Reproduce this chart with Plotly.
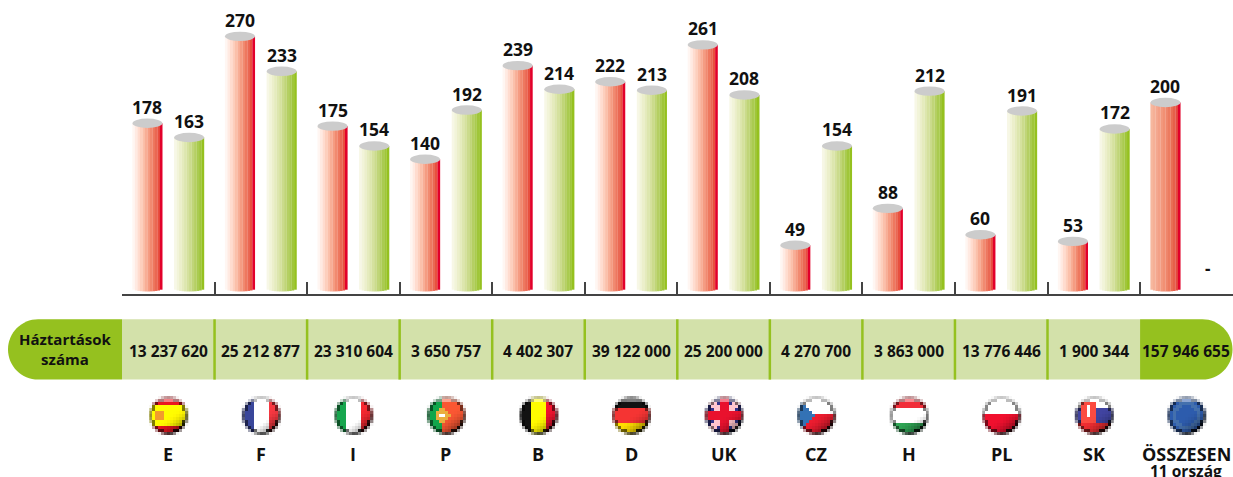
import numpy as np
import plotly.graph_objects as go

W, H = 1233, 477
countries = ["E", "F", "I", "P", "B", "D", "UK", "CZ", "H", "PL", "SK", "ÖSSZESEN"]
series_red = [178, 270, 175, 140, 239, 222, 261, 49, 88, 60, 53, 200]
series_green = [163, 233, 154, 192, 214, 213, 208, 154, 212, 191, 172, None]
households = ["13 237 620", "25 212 877", "23 310 604", "3 650 757", "4 402 307", "39 122 000",
              "25 200 000", "4 270 700", "3 863 000", "13 776 446", "1 900 344", "157 946 655"]
red_strips = ["#fff6f2", "#ffeae2", "#ffdccf", "#fdcfbd", "#fbc0aa", "#f8ae96", "#f59c82", "#f18a70",
              "#ee785f", "#ea6853", "#e8503f", "#e2002a"]
total_strips = ["#f6b79e", "#f5b097", "#f4a88f", "#f3a086", "#f2987d", "#f19074", "#ef866b", "#ec7b60",
                "#e96f55", "#e6604a", "#e44a3e", "#e2002a"]
green_strips = ["#f7f7e6", "#f2f4d9", "#ecefcb", "#e5ebbd", "#dde6ae", "#d5e19e", "#cbdb8c", "#c0d578",
                "#b5cf63", "#aacb50", "#a0c63a", "#95c11f"]

PX_PER_UNIT = 0.945
ZERO_PX = 291.5
GROUP_PX = 92.55
LEFT_PX = 122.0
AXIS_RIGHT = 1232.5
BAR_PX = 30.0
OFFSET = 20.85 / GROUP_PX


def pill(x0, x1, top, bot, left=True):
    r = (bot - top) / 2
    k = 0.5523 * r
    mid = (top + bot) / 2
    if left:
        return (f"M {x1} {top} L {x0+r} {top} C {x0+r-k} {top} {x0} {mid-k} {x0} {mid} "
                f"C {x0} {mid+k} {x0+r-k} {bot} {x0+r} {bot} L {x1} {bot} Z")
    return (f"M {x0} {top} L {x1-r} {top} C {x1-r+k} {top} {x1} {mid-k} {x1} {mid} "
            f"C {x1} {mid+k} {x1-r+k} {bot} {x1-r} {bot} L {x0} {bot} Z")


def flag(kind, n=13):
    u = (np.arange(n) + 0.5) / n * 2 - 1
    X, Y = np.meshgrid(u, u)

    def rgb(h):
        return np.array([int(h[i:i + 2], 16) for i in (1, 3, 5)], float)

    img = np.ones((n, n, 3)) * 255.0

    def fill(mask, c):
        img[mask] = rgb(c)

    if kind == "E":
        fill(np.ones_like(X, bool), "#d9141e")
        fill(abs(Y + 0.02) < 0.5, "#f2ea00")
        fill((abs(X + 0.45) < 0.22) & (abs(Y) < 0.28), "#e0902a")
    elif kind == "F":
        fill(X < -0.33, "#35418f")
        fill(X > 0.33, "#e6343c")
    elif kind == "I":
        fill(X < -0.33, "#159a48")
        fill(X > 0.33, "#e4252d")
    elif kind == "P":
        fill(X < -0.2, "#0f9a45")
        fill(X >= -0.2, "#e8512f")
        fill((np.hypot(X + 0.2, Y) < 0.36), "#d9a13a")
        fill((np.hypot(X + 0.2, Y) < 0.12), "#ffffff")
    elif kind == "B":
        fill(X < -0.33, "#111111")
        fill(abs(X) <= 0.33, "#f2ea00")
        fill(X > 0.33, "#e0112b")
    elif kind == "D":
        fill(Y < -0.33, "#111111")
        fill(abs(Y) <= 0.33, "#e3302f")
        fill(Y > 0.33, "#f0d000")
    elif kind == "UK":
        fill(np.ones_like(X, bool), "#2e2f80")
        fill((abs(abs(X) - abs(Y)) < 0.22), "#f2b8c0")
        fill((abs(X) < 0.3) | (abs(Y) < 0.3), "#f6f0f0")
        fill((abs(X) < 0.16) | (abs(Y) < 0.16), "#d8102a")
    elif kind == "CZ":
        fill(Y < 0, "#f2f2f2")
        fill(Y >= 0, "#dc1a2c")
        fill((X + 0.95) < (0.85 - abs(Y) * 0.95), "#2f6aa8")
    elif kind == "H":
        fill(Y < -0.33, "#df2a35")
        fill(Y > 0.33, "#2c9a4f")
    elif kind == "PL":
        fill(Y >= 0, "#df0f2b")
    elif kind == "SK":
        fill(Y < -0.33, "#f4f4f4")
        fill(abs(Y) <= 0.33, "#3c3f95")
        fill(Y > 0.33, "#df2a2e")
        fill((abs(X + 0.3) < 0.35) & (abs(Y + 0.1) < 0.52), "#e8453c")
        fill((abs(X + 0.3) < 0.07) & (abs(Y + 0.2) < 0.3), "#ffffff")
    else:
        fill(np.ones_like(X, bool), "#2a55a0")
        fill((abs(np.hypot(X, Y) - 0.62) < 0.09), "#3f68a0")
    r = np.hypot(X, Y)
    shade = np.clip(1.08 - 0.42 * np.clip((X + 1.4 * Y) / 1.4, 0, 1) ** 2 - 0.55 * (r > 0.8), 0, 1.2)
    img = np.clip(img * shade[..., None], 0, 255)
    top = (Y < -0.72) & (r < 1.0)
    img[top] = img[top] * 0.55 + 255 * 0.45
    alpha = np.clip((1.04 - r) / 0.14, 0, 1)[..., None]
    return np.round(img * alpha + 255 * (1 - alpha)).astype(np.uint8)


fig = go.Figure()

xs_idx = np.arange(len(countries))
n = len(red_strips)
groups = (
    ([(i, v) for i, v in zip(xs_idx[:-1], series_red[:-1])], red_strips, -OFFSET),
    ([(xs_idx[-1], series_red[-1])], total_strips, -OFFSET),
    ([(i, v) for i, v in zip(xs_idx, series_green) if v is not None], green_strips, OFFSET),
)
strip_w = BAR_PX / GROUP_PX / n
for present, cols, off in groups:
    for s in range(n):
        u = (s + 0.5) / n * 2 - 1
        base = (3.0 / PX_PER_UNIT) * (1 - np.sqrt(1 - u * u))
        fig.add_trace(go.Bar(
            x=[i + 0.5 + off + u * BAR_PX / GROUP_PX / 2 for i, _ in present],
            y=[v - base for _, v in present],
            base=base,
            width=strip_w * 1.06,
            marker=dict(color=cols[s], line=dict(width=0)),
            showlegend=False, hoverinfo="skip", xaxis="x", yaxis="y",
        ))

shapes = []
anns = []
RY = 4.7 / PX_PER_UNIT
RX = BAR_PX / GROUP_PX / 2
for vals, off in ((series_red, -OFFSET), (series_green, OFFSET)):
    for i, v in zip(xs_idx, vals):
        cx = i + 0.5 + off
        if v is None:
            anns.append(dict(x=cx, y=24, xref="x", yref="y", text="<b>-</b>", showarrow=False,
                             font=dict(size=17, color="#111")))
            continue
        shapes.append(dict(type="circle", xref="x", yref="y", x0=cx - RX, x1=cx + RX, y0=v - RY, y1=v + RY,
                           fillcolor="#cccccc", line=dict(width=0)))
        anns.append(dict(x=cx, y=v, xref="x", yref="y", yanchor="bottom", yshift=2.5, text=f"<b>{v}</b>",
                         showarrow=False, font=dict(size=17.5, color="#111")))

TOP, BOT = 319.3, 379.6
tick_px = [LEFT_PX + GROUP_PX * i for i in range(12)]
shapes.append(dict(type="rect", xref="x2", yref="y2", x0=LEFT_PX, x1=tick_px[-1], y0=TOP, y1=BOT,
                   fillcolor="#d3e1aa", line=dict(width=0)))
shapes.append(dict(type="path", xref="x2", yref="y2", path=pill(8, LEFT_PX, TOP, BOT, True),
                   fillcolor="#95c11f", line=dict(width=0)))
shapes.append(dict(type="path", xref="x2", yref="y2", path=pill(tick_px[-1], AXIS_RIGHT, TOP, BOT, False),
                   fillcolor="#95c11f", line=dict(width=0)))
for t in tick_px[1:-1]:
    shapes.append(dict(type="line", xref="x2", yref="y2", x0=t, x1=t, y0=TOP, y1=BOT,
                       line=dict(color="#95c11f", width=2.5)))

anns.append(dict(x=65, y=349, xref="x2", yref="y2", text="<b>Háztartások<br>száma</b>", showarrow=False,
                 font=dict(size=15, color="#111"), align="center"))
for i, h in enumerate(households):
    anns.append(dict(x=i + 0.5, y=350.5, xref="x", yref="y2", text=f"<b>{h}</b>", showarrow=False,
                     font=dict(size=15.5, color="#111")))
    anns.append(dict(x=i + 0.5, y=453.5, xref="x", yref="y2", text=f"<b>{countries[i]}</b>", showarrow=False,
                     font=dict(size=18, color="#111")))
anns.append(dict(x=11.5, y=470.5, xref="x", yref="y2", text="<b>11 ország</b>", showarrow=False,
                 font=dict(size=15.5, color="#111")))

DX = 3.0
for i, c in enumerate(countries):
    img = flag(c if c != "ÖSSZESEN" else "EU")
    cx = LEFT_PX + GROUP_PX * (i + 0.5) + 0.5
    fig.add_trace(go.Image(z=img, x0=cx - 6 * DX, y0=415.5 - 6 * DX, dx=DX, dy=DX,
                           xaxis="x2", yaxis="y2", hoverinfo="skip"))

fig.update_layout(
    width=W, height=H, margin=dict(l=0, r=0, t=0, b=0),
    paper_bgcolor="white", plot_bgcolor="rgba(0,0,0,0)",
    barmode="overlay", showlegend=False,
    font=dict(family="Open Sans, Noto Sans, sans-serif", color="#111"),
    shapes=shapes, annotations=anns,
    xaxis=dict(domain=[LEFT_PX / W, AXIS_RIGHT / W], range=[0, (AXIS_RIGHT - LEFT_PX) / GROUP_PX],
               anchor="free", position=1 - 295 / H,
               tickmode="array", tickvals=list(range(13)), ticks="inside", ticklen=12, tickwidth=1.5,
               tickcolor="#444", showline=True, linecolor="#444", linewidth=1.5,
               showticklabels=False, showgrid=False, zeroline=False, fixedrange=True),
    yaxis=dict(domain=[0, 1], range=[-(H - ZERO_PX) / PX_PER_UNIT, ZERO_PX / PX_PER_UNIT], visible=False,
               fixedrange=True),
    xaxis2=dict(domain=[0, 1], range=[0, W], visible=False, anchor="y2", fixedrange=True),
    yaxis2=dict(domain=[0, 1], range=[H, 0], visible=False, anchor="x2", fixedrange=True),
)
fig.write_html("out.html", config={"displayModeBar": False},
               post_script="document.body.style.margin='0';")
